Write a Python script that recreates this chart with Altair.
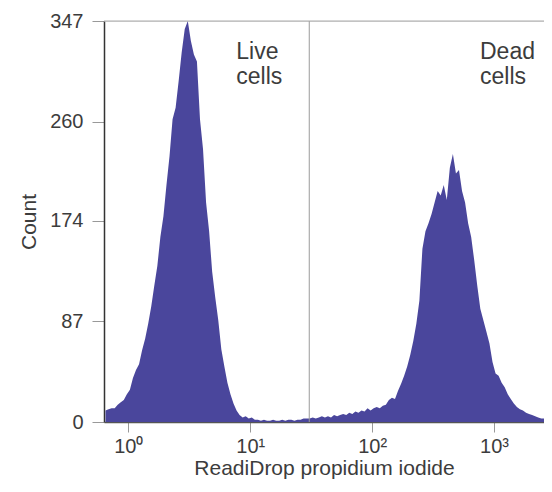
import altair as alt
import pandas as pd

# Histogram bins in log10 units of fluorescence intensity
bin_start = -0.2
bin_width = 0.025
counts = [
    10, 11, 12, 12, 15, 17, 19, 24, 28, 38,
    45, 50, 62, 72, 85, 100, 118, 135, 160, 178,
    205, 230, 262, 272, 295, 320, 340, 347, 330, 318,
    312, 262, 236, 190, 165, 130, 108, 88, 63, 48,
    34, 24, 16, 10, 6, 4, 5, 3, 4, 2,
    2, 1, 2, 1, 1, 2, 1, 1, 2, 1,
    2, 2, 1, 2, 2, 3, 3, 3, 4, 3,
    4, 5, 4, 5, 4, 6, 5, 6, 7, 6,
    8, 7, 9, 8, 10, 9, 12, 10, 12, 13,
    12, 14, 15, 19, 21, 20, 27, 33, 40, 48,
    58, 70, 85, 105, 150, 165, 172, 180, 190, 200,
    196, 205, 192, 220, 232, 215, 218, 200, 190, 172,
    160, 140, 118, 98, 88, 78, 68, 52, 42, 40,
    34, 30, 24, 20, 16, 13, 11, 10, 8, 7,
    6, 5, 4, 3, 3, 2, 2, 2,
]
log_centers = [round(bin_start + bin_width * (i + 0.5), 4) for i in range(len(counts))]

x_ticks = [0, 1, 2, 3]
x_tick_labels = ["10⁰", "10¹", "10²", "10³"]
y_ticks = [0, 87, 174, 260, 347]
gate_position = [1.484]
top_line = [347]
annot_text = ["Live\ncells", "Dead\ncells"]
annot_x = [0.885, 2.885]
annot_y = [314, 314]

FONT = "Liberation Sans"
TXT = "#3c3c3c"
FILL = "#4a469c"

df = pd.DataFrame({"logx": log_centers, "count": counts})

label_expr = " : ".join(
    f"datum.value == {v} ? '{t}'" for v, t in zip(x_ticks, x_tick_labels)
) + " : ''"

xscale = alt.Scale(domain=[-0.2, 3.41], nice=False, zero=False)
yscale = alt.Scale(domain=[0, 347], nice=False)

area = alt.Chart(df).mark_area(interpolate="linear", color=FILL, clip=True).encode(
    x=alt.X("logx:Q", scale=xscale, axis=alt.Axis(
        values=x_ticks, labelExpr=label_expr, title="ReadiDrop propidium iodide",
        grid=False, domainColor="#555", domainWidth=1.5, tickColor="#999", tickSize=10,
        labelPadding=4, labelFontSize=20, labelFont=FONT, labelColor=TXT,
        titleFont=FONT, titleFontSize=21, titleFontWeight="normal", titleColor=TXT,
        titleY=46, titleBaseline="middle")),
    y=alt.Y("count:Q", scale=yscale, axis=alt.Axis(
        values=y_ticks, title="Count", grid=False, domainColor="#333", domainWidth=1.5,
        tickColor="#999", tickSize=12, labelPadding=9, labelFontSize=20, labelFont=FONT,
        labelColor=TXT, titleFont=FONT, titleFontSize=21, titleFontWeight="normal",
        titleColor=TXT, titleX=-75, titleBaseline="middle")),
)

gate = alt.Chart(pd.DataFrame({"g": gate_position})).mark_rule(
    color="#9a9a9a", strokeWidth=1).encode(x=alt.X("g:Q", scale=xscale))

top = alt.Chart(pd.DataFrame({"t": top_line})).mark_rule(
    color="#aaaaaa", strokeWidth=1).encode(y=alt.Y("t:Q", scale=yscale))

annot = alt.Chart(pd.DataFrame({"x": annot_x, "y": annot_y, "label": annot_text})).mark_text(
    align="left", baseline="alphabetic", fontSize=23, lineBreak="\n", lineHeight=25,
    font=FONT, color=TXT).encode(
    x=alt.X("x:Q", scale=xscale), y=alt.Y("y:Q", scale=yscale), text="label:N")

chart = alt.layer(area, gate, top, annot).properties(
    width=440, height=401,
    padding={"left": 96, "top": 13, "right": 0, "bottom": 63},
    autosize=alt.AutoSizeParams(type="none"),
).configure_view(stroke=None).configure(background="white")

chart.save("out.html", embed_options={"renderer": "svg", "actions": False})
